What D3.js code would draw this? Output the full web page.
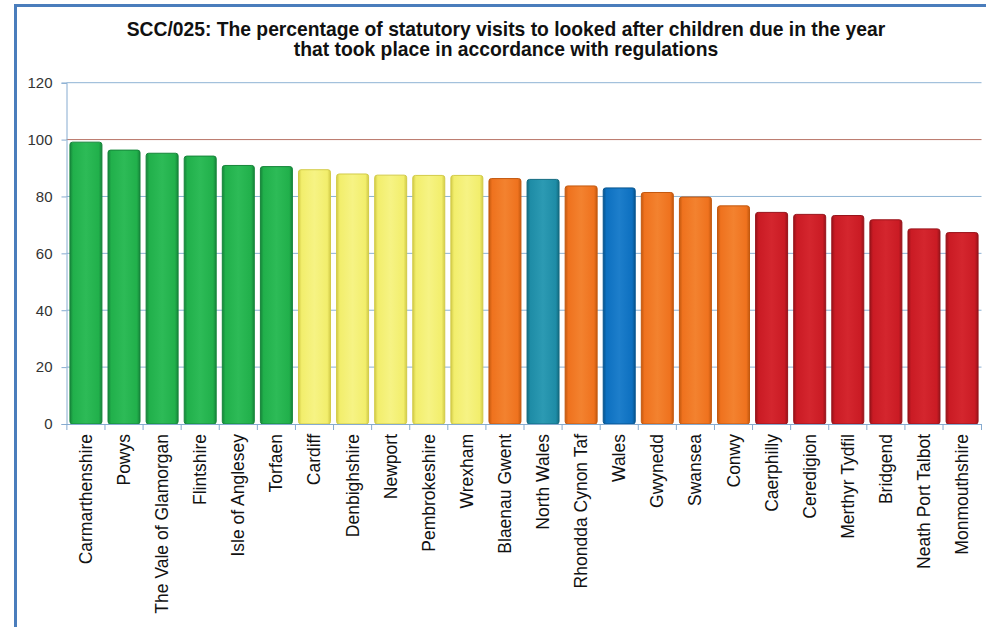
<!DOCTYPE html>
<html>
<head>
<meta charset="utf-8">
<script src="https://cdn.jsdelivr.net/npm/d3@7"></script>
<style>
  body { margin: 0; background: #fff; }
  svg { display: block; font-family: "Liberation Sans", Arial, sans-serif; }
</style>
</head>
<body>
<svg id="chart" width="986" height="627"></svg>
<script>
const authorities = ["Carmarthenshire", "Powys", "The Vale of Glamorgan", "Flintshire", "Isle of Anglesey",
  "Torfaen", "Cardiff", "Denbighshire", "Newport", "Pembrokeshire", "Wrexham", "Blaenau Gwent",
  "North Wales", "Rhondda Cynon Taf", "Wales", "Gwynedd", "Swansea", "Conwy", "Caerphilly",
  "Ceredigion", "Merthyr Tydfil", "Bridgend", "Neath Port Talbot", "Monmouthshire"];
const percentages = [99.1, 96.3, 95.2, 94.2, 90.9, 90.5, 89.4, 87.9, 87.5, 87.4, 87.4, 86.3,
  86.0, 83.7, 83.0, 81.4, 79.8, 76.7, 74.4, 73.7, 73.3, 71.8, 68.6, 67.3];
const bands = ["green", "green", "green", "green", "green", "green", "yellow", "yellow", "yellow",
  "yellow", "yellow", "orange", "region", "orange", "nation", "orange", "orange", "orange",
  "red", "red", "red", "red", "red", "red"];
const yTicks = [0, 20, 40, 60, 80, 100, 120];
const titleLines = ["SCC/025: The percentage of statutory visits to looked after children due in the year",
  "that took place in accordance with regulations"];

const palette = {
  green:  { dark: "#16853a", base: "#21b04b", light: "#2dbb57" },
  yellow: { dark: "#d2cb48", base: "#f2ee6c", light: "#f6f384" },
  orange: { dark: "#c4590f", base: "#ef721e", light: "#f3822f" },
  region: { dark: "#136b80", base: "#1e8ca6", light: "#2c9ab3" },
  nation: { dark: "#07558f", base: "#0d70c0", light: "#1d7ecb" },
  red:    { dark: "#98131a", base: "#ca1b24", light: "#d4262e" }
};

const data = authorities.map((name, i) => ({ name, value: percentages[i], band: bands[i] }));

const svg = d3.select("#chart");
const plot = { left: 66.5, right: 981.5, top: 82.7, bottom: 424 };

// chart frame (only left/top edges are inside the picture)
svg.append("path")
  .attr("d", "M15.5,630 V5.5 H990")
  .attr("fill", "none")
  .attr("stroke", "#4a7dbc")
  .attr("stroke-width", 3);

// gradients for the bevelled bar look
const defs = svg.append("defs");
Object.entries(palette).forEach(([key, c]) => {
  const g = defs.append("linearGradient").attr("id", "grad-" + key)
    .attr("x1", 0).attr("x2", 1).attr("y1", 0).attr("y2", 0);
  [[0, c.dark], [0.1, c.base], [0.5, c.light], [0.9, c.base], [1, c.dark]]
    .forEach(([o, col]) => g.append("stop").attr("offset", o).attr("stop-color", col));
});

const x = d3.scaleBand()
  .domain(authorities)
  .range([plot.left, plot.right])
  .paddingInner(0.16)
  .paddingOuter(0.09);

const y = d3.scaleLinear().domain([0, 120]).range([plot.bottom, plot.top]);

// gridlines
svg.append("g")
  .selectAll("line")
  .data(yTicks.filter(d => d > 0))
  .join("line")
  .attr("x1", plot.left).attr("x2", plot.right)
  .attr("y1", d => y(d)).attr("y2", d => y(d))
  .attr("stroke", d => d === 100 ? "#b87466" : "#8eb3d4")
  .attr("stroke-width", 1);

// y axis
const yAxis = svg.append("g")
  .attr("transform", `translate(${plot.left},0)`)
  .call(d3.axisLeft(y).tickValues(yTicks).tickSize(5).tickPadding(9));
yAxis.select(".domain").attr("stroke", "#86abd0");
yAxis.selectAll(".tick line").attr("stroke", "#86abd0");
yAxis.selectAll("text").attr("fill", "#333").style("font-size", "15px");

// bars
svg.append("g")
  .selectAll("rect")
  .data(data)
  .join("rect")
  .attr("x", d => x(d.name))
  .attr("y", d => y(d.value))
  .attr("width", x.bandwidth())
  .attr("height", d => y(0) - y(d.value))
  .attr("rx", 2.5)
  .attr("fill", d => `url(#grad-${d.band})`)
  .attr("stroke", d => palette[d.band].dark)
  .attr("stroke-width", 1);

// x axis with ticks between categories
const step = x.step();
const boundaries = authorities.map(a => x(a) - step * x.paddingInner() / 2).concat([plot.right]);
const xAxis = svg.append("g");
xAxis.append("line")
  .attr("x1", plot.left).attr("x2", plot.right)
  .attr("y1", plot.bottom + 0.5).attr("y2", plot.bottom + 0.5)
  .attr("stroke", "#86abd0");
xAxis.selectAll(".tk")
  .data(boundaries)
  .join("line")
  .attr("class", "tk")
  .attr("x1", d => d).attr("x2", d => d)
  .attr("y1", plot.bottom).attr("y2", plot.bottom + 6)
  .attr("stroke", "#86abd0");

xAxis.selectAll("text")
  .data(authorities)
  .join("text")
  .attr("transform", d => `translate(${x(d) + x.bandwidth() / 2 + 6},${plot.bottom + 10}) rotate(-90)`)
  .attr("text-anchor", "end")
  .attr("fill", "#111")
  .style("font-size", "17.5px")
  .text(d => d);

// title
svg.append("text")
  .attr("text-anchor", "middle")
  .attr("fill", "#111")
  .style("font-size", "19.3px")
  .style("font-weight", "bold")
  .selectAll("tspan")
  .data(titleLines)
  .join("tspan")
  .attr("x", 506)
  .attr("y", (d, i) => 36 + i * 20)
  .text(d => d);
</script>
</body>
</html>
